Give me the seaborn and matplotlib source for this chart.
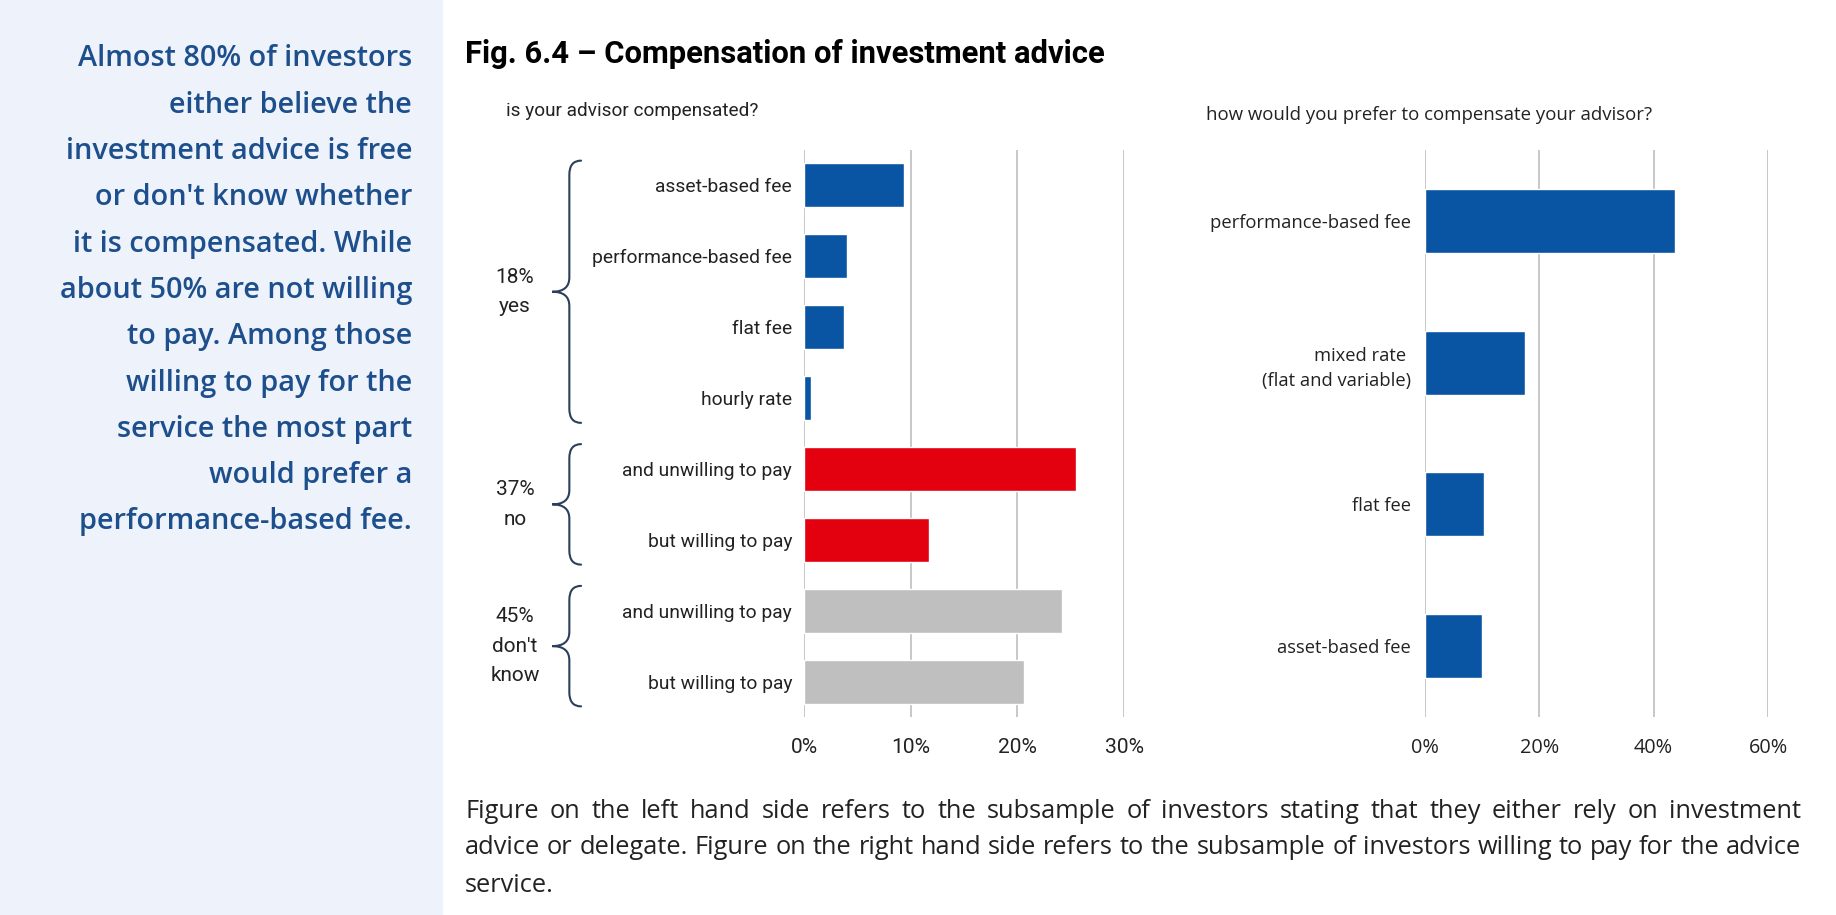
"""
Fig. 6.4 - Compensation of investment advice.

Left: is your advisor compensated? (grouped by yes / no / don't know)
Right: how would you prefer to compensate your advisor?
"""

import matplotlib
matplotlib.use("Agg")
import matplotlib.pyplot as plt
import pandas as pd
import seaborn as sns
from matplotlib import font_manager
from matplotlib.patches import PathPatch, Rectangle
from matplotlib.path import Path
from matplotlib.ticker import FuncFormatter

# ---------------------------------------------------------------- data
TITLE = "Fig. 6.4 – Compensation of investment advice"
LEFT_QUESTION = "is your advisor compensated?"
RIGHT_QUESTION = "how would you prefer to compensate your advisor?"

left_labels = [
    "asset-based fee", "performance-based fee", "flat fee", "hourly rate",
    "and unwilling to pay", "but willing to pay",
    "and unwilling to pay", "but willing to pay",
]
left_groups = ["yes", "yes", "yes", "yes", "no", "no", "dk", "dk"]
left_values = [9.4, 4.0, 3.75, 0.7, 25.5, 11.7, 24.2, 20.6]
group_keys = ["yes", "no", "dk"]
group_texts = ["18%\nyes", "37%\nno", "45%\ndon't\nknow"]
left_ticks = [0, 10, 20, 30]

right_labels = [
    "performance-based fee", "mixed rate \n(flat and variable)",
    "flat fee", "asset-based fee",
]
right_values = [43.8, 17.5, 10.4, 10.0]
right_ticks = [0, 20, 40, 60]

sidebar_lines = [
    "Almost 80% of investors",
    "either believe the",
    "investment advice is free",
    "or don't know whether",
    "it is compensated. While",
    "about 50% are not willing",
    "to pay. Among those",
    "willing to pay for the",
    "service the most part",
    "would prefer a",
    "performance-based fee.",
]
caption_lines = [
    "Figure on the left hand side refers to the subsample of investors stating "
    "that they either rely on investment",
    "advice or delegate. Figure on the right hand side refers to the subsample "
    "of investors willing to pay for the advice",
    "service.",
]

# ---------------------------------------------------------------- style
BLUE = "#0A55A3"
RED = "#E3000F"
GRAY = "#BFBFBF"
NAVY = "#1D4F8C"
BRACE = "#2B3F5C"
PANEL = "#EEF2FB"
GRID = "#C8C8C8"
TXT = "#222222"

W, H = 1836, 915

sns.set_theme(style="white")
installed = {f.name for f in font_manager.fontManager.ttflist}
NARROW = next((f for f in ["Liberation Sans Narrow", "Roboto"] if f in installed), "DejaVu Sans")
REGULAR = "Open Sans" if "Open Sans" in installed else "DejaVu Sans"
plt.rcParams["font.family"] = [REGULAR, "DejaVu Sans"]

fig = plt.figure(figsize=(W / 100, H / 100), dpi=100)
fig.patch.set_facecolor("white")
renderer = fig.canvas.get_renderer()


def rect(x0, y0, x1, y1):
    return [x0 / W, 1 - y1 / H, (x1 - x0) / W, (y1 - y0) / H]


def size_for(s, width_px, family, weight="normal", base=12.0):
    t = fig.text(0, 0, s, fontsize=base, family=family, weight=weight)
    w = t.get_window_extent(renderer).width
    t.remove()
    return base * width_px / w


def draw_brace(ax, y0, y1, x_line, x_tip, x_end, r):
    ym = (y0 + y1) / 2
    verts = [
        (x_end, y0), (x_line, y0), (x_line, y0 + r),
        (x_line, ym - r), (x_line, ym), (x_tip, ym),
        (x_line, ym), (x_line, ym + r),
        (x_line, y1 - r), (x_line, y1), (x_end, y1),
    ]
    codes = [
        Path.MOVETO, Path.CURVE3, Path.CURVE3,
        Path.LINETO, Path.CURVE3, Path.CURVE3,
        Path.CURVE3, Path.CURVE3,
        Path.LINETO, Path.CURVE3, Path.CURVE3,
    ]
    ax.add_patch(PathPatch(Path(verts, codes), fill=False, edgecolor=BRACE,
                           lw=1.5, clip_on=False, capstyle="round"))


pct = FuncFormatter(lambda v, _: f"{v:.0f}%")

# ---------------------------------------------------------------- sidebar
fig.add_artist(Rectangle((0, 0), 443 / W, 1, transform=fig.transFigure,
                         facecolor=PANEL, edgecolor="none", zorder=0))
side_size = size_for(sidebar_lines[0], 336, REGULAR, weight="semibold")
for i, line in enumerate(sidebar_lines):
    fig.text(412 / W, 1 - (59 + 46.3 * i) / H, line, ha="right", va="center",
             fontsize=side_size, weight="semibold", color=NAVY, family=REGULAR)

# ---------------------------------------------------------------- titles
fig.text(465 / W, 1 - 54 / H, TITLE, ha="left", va="center", color="black",
         fontsize=size_for(TITLE, 640, NARROW, weight="bold"),
         weight="bold", family=NARROW)
fig.text(506 / W, 1 - 111 / H, LEFT_QUESTION, ha="left", va="center", color=TXT,
         fontsize=size_for(LEFT_QUESTION, 252, NARROW), family=NARROW)
fig.text(1206 / W, 1 - 115 / H, RIGHT_QUESTION, ha="left", va="center", color=TXT,
         fontsize=size_for(RIGHT_QUESTION, 445, REGULAR), family=REGULAR)

# ---------------------------------------------------------------- left chart
axL = fig.add_axes(rect(804, 150, 1124, 717))
df_left = pd.DataFrame({
    "item": [f"{g}:{lab}" for g, lab in zip(left_groups, left_labels)],
    "group": left_groups,
    "value": left_values,
})
sns.barplot(data=df_left, x="value", y="item", hue="group",
            palette={"yes": BLUE, "no": RED, "dk": GRAY}, dodge=False,
            width=0.62, saturation=1, legend=False, ax=axL)

lab_size_l = size_for("performance-based fee", 200, NARROW)
axL.set_yticks(range(len(left_labels)))
axL.set_yticklabels(left_labels, family=NARROW, fontsize=lab_size_l, color=TXT)
axL.set_xlim(left_ticks[0], left_ticks[-1])
axL.set_ylim(len(left_labels) - 0.5, -0.5)
axL.set_xticks(left_ticks)
axL.xaxis.set_major_formatter(pct)
for t in axL.get_xticklabels():
    t.set_family(NARROW)
    t.set_fontsize(size_for("10%", 39, NARROW))
    t.set_color(TXT)
axL.tick_params(axis="x", length=0, pad=15)
axL.tick_params(axis="y", length=0, pad=8.5)

# braces + group labels
grp_size = size_for("18%", 38.6, NARROW)
start = 0
for key, text in zip(group_keys, group_texts):
    n = left_groups.count(key)
    y0, y1 = start - 0.35, start + n - 1 + 0.35
    draw_brace(axL, y0, y1, x_line=-22.0, x_tip=-23.6, x_end=-20.9, r=0.2)
    axL.text(-27.1, (y0 + y1) / 2, text, ha="center", va="center",
             fontsize=grp_size, family=NARROW, color=TXT, linespacing=1.7,
             clip_on=False)
    start += n

# ---------------------------------------------------------------- right chart
axR = fig.add_axes(rect(1425, 150, 1768, 717))
df_right = pd.DataFrame({"item": right_labels, "value": right_values})
sns.barplot(data=df_right, x="value", y="item", color=BLUE, width=0.45,
            saturation=1, ax=axR)
axR.set_xlim(right_ticks[0], right_ticks[-1])
axR.set_ylim(len(right_labels) - 0.5, -0.5)
axR.set_xticks(right_ticks)
axR.xaxis.set_major_formatter(pct)
lab_size_r = size_for("performance-based fee", 200, REGULAR)
for t in axR.get_yticklabels():
    t.set_family(REGULAR)
    t.set_fontsize(lab_size_r)
    t.set_color(TXT)
    t.set_linespacing(1.5)
for t in axR.get_xticklabels():
    t.set_family(REGULAR)
    t.set_fontsize(size_for("40%", 39.4, REGULAR))
    t.set_color(TXT)
axR.tick_params(axis="x", length=0, pad=15)
axR.tick_params(axis="y", length=0, pad=10)

for ax in (axL, axR):
    ax.set_xlabel("")
    ax.set_ylabel("")
    ax.set_axisbelow(True)
    ax.grid(axis="x", color=GRID, lw=1.4)
    ax.grid(axis="y", visible=False)
    sns.despine(ax=ax, left=True, bottom=True)
    ax.patch.set_alpha(0)

# ---------------------------------------------------------------- caption
cx0, cx1 = 465, 1801
cap_size = size_for(caption_lines[1], (cx1 - cx0) * 0.995, REGULAR)
for i, line in enumerate(caption_lines):
    y = 1 - (811 + 37 * i) / H
    words = line.split(" ")
    if i == len(caption_lines) - 1:
        fig.text(cx0 / W, y, line, ha="left", va="center", fontsize=cap_size,
                 family=REGULAR, color=TXT)
        continue
    texts = [fig.text(0, y, w, ha="left", va="center", fontsize=cap_size,
                      family=REGULAR, color=TXT) for w in words]
    widths = [t.get_window_extent(renderer).width for t in texts]
    gap = (cx1 - cx0 - sum(widths)) / (len(words) - 1)
    x = cx0
    for t, w in zip(texts, widths):
        t.set_x(x / W)
        x += w + gap

fig.savefig("out.png", dpi=100)
